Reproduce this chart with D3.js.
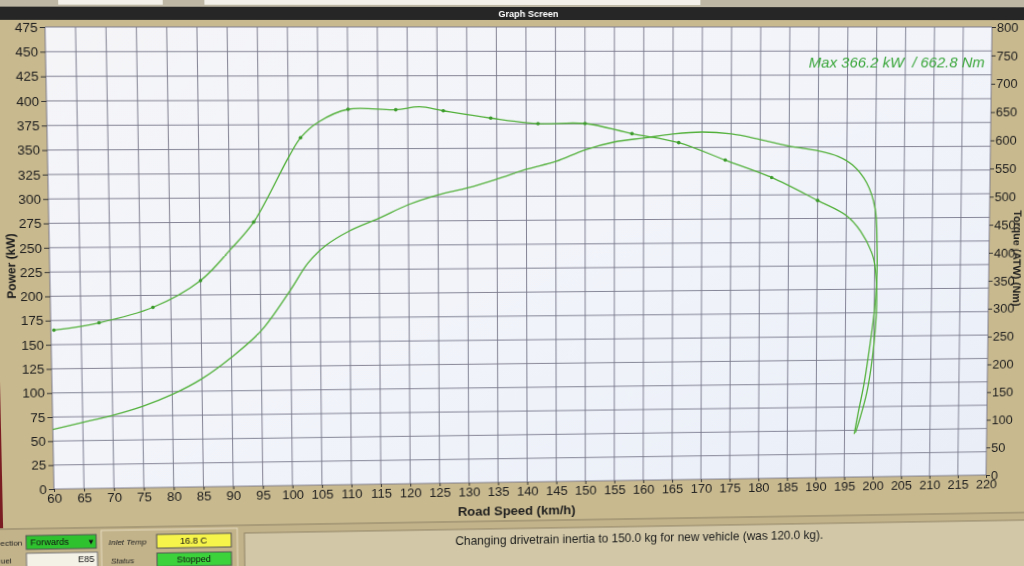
<!DOCTYPE html>
<html>
<head>
<meta charset="utf-8">
<script src="https://cdn.jsdelivr.net/npm/d3@7"></script>
<style>
  html, body { margin: 0; width: 1024px; height: 566px; overflow: hidden; background: #c6b78d; }
  svg { position: absolute; left: 0; top: 0; transform-origin: 0 0; font-family: "Liberation Sans", Arial, sans-serif; }
</style>
</head>
<body>
<svg id="chart" width="1070" height="610"></svg>
<script>
// road speed ticks / axis ranges
const speedTicks = d3.range(60, 221, 5);
const powerTicks = d3.range(0, 476, 25);
const torqueTicks = d3.range(0, 801, 50);

// power run (km/h, kW) incl. the run-down at the end
const powerSpeed = [60, 65, 70, 75, 80, 85, 90, 95, 100, 103, 106, 110, 115, 120, 125, 130, 135, 140, 145, 150, 155, 160, 165, 170, 175, 180, 185, 190, 193.5, 196, 198.5, 200, 200.4, 200.4, 200, 199.3, 198.3, 197.4, 196.7];
const powerKw = [62, 69, 76, 85, 97, 113, 135, 162, 204, 232, 250, 265, 278, 292, 302, 309, 318, 328, 336, 348, 356, 360, 364, 366, 364, 358, 351, 346, 340, 331, 312, 285, 245, 210, 175, 140, 98, 70, 46];

// torque run (km/h, Nm)
const torqueSpeed = [60.5, 68, 77, 85, 90, 94, 100, 102, 105, 110, 118, 122, 126, 134, 142, 150, 158, 166, 174, 182, 190, 195, 197.5, 199.7, 200.3, 200.4, 200.1, 199.6, 198.8, 197.8, 196.9];
const torqueNm = [278, 290, 316, 362, 415, 463, 576, 609, 636, 658, 657, 662, 655, 642, 632, 632, 614, 598, 567, 536, 495, 468, 440, 395, 354, 300, 250, 200, 150, 110, 80];
// speeds where the dyno software put a dot on the torque trace
const torqueMarks = [60.5, 68, 77, 85, 94, 102, 110, 118, 126, 134, 142, 150, 158, 166, 174, 182, 190];

const maxLabel = "Max 366.2 kW  / 662.8 Nm";

const svg = d3.select("#chart");
const plotL = 55, plotR = 986, plotT = 27, plotB = 489;

const x = d3.scaleLinear().domain([60, 220]).range([plotL, plotR]);
const yP = d3.scaleLinear().domain([0, 475]).range([plotB, plotT]);
const yT = d3.scaleLinear().domain([0, 800]).range([plotB, plotT]);

// the reference is a photo of a screen taken at a slight angle:
// map the flat plot corners onto where they sit in the photo
function homography(src, dst) {
  const A = [], b = [];
  for (let i = 0; i < 4; i++) {
    const [sx, sy] = src[i], [u, v] = dst[i];
    A.push([sx, sy, 1, 0, 0, 0, -u * sx, -u * sy]); b.push(u);
    A.push([0, 0, 0, sx, sy, 1, -v * sx, -v * sy]); b.push(v);
  }
  for (let c = 0; c < 8; c++) {
    let p = c;
    for (let r = c + 1; r < 8; r++) if (Math.abs(A[r][c]) > Math.abs(A[p][c])) p = r;
    [A[c], A[p]] = [A[p], A[c]]; [b[c], b[p]] = [b[p], b[c]];
    for (let r = 0; r < 8; r++) {
      if (r === c) continue;
      const f = A[r][c] / A[c][c];
      for (let k = c; k < 8; k++) A[r][k] -= f * A[c][k];
      b[r] -= f * b[c];
    }
  }
  return b.map((v, i) => v / A[i][i]);
}
const h = homography(
  [[plotL, plotT], [plotR, plotT], [plotL, plotB], [plotR, plotB]],
  [[45, 27], [992, 27], [54, 489], [986, 475]]
);
svg.style("transform", `matrix3d(${h[0]},${h[3]},0,${h[6]},${h[1]},${h[4]},0,${h[7]},0,0,1,0,${h[2]},${h[5]},0,1)`);

// window chrome
svg.append("rect").attr("x", -20).attr("y", -20).attr("width", 1110).attr("height", 650).attr("fill", "#c8b98f");
svg.append("rect").attr("x", -20).attr("y", -10).attr("width", 1110).attr("height", 18).attr("fill", "#bdb7a4");
svg.append("rect").attr("x", 68).attr("y", -4).attr("width", 100).attr("height", 9).attr("fill", "#f2f0e8");
svg.append("rect").attr("x", 208).attr("y", -4).attr("width", 485).attr("height", 9).attr("fill", "#f2f0e8");
svg.append("rect").attr("x", -20).attr("y", 7).attr("width", 1110).attr("height", 13).attr("fill", "#262626");
svg.append("text").attr("x", 523).attr("y", 17).attr("text-anchor", "middle")
  .attr("fill", "#fff").attr("font-size", 9).attr("font-weight", "bold").text("Graph Screen");
svg.append("rect").attr("x", -20).attr("y", 0).attr("width", 25).attr("height", 530).attr("fill", "#7a1c22");

// plot area
const grad = svg.append("defs").append("linearGradient").attr("id", "bg")
  .attr("x1", 0).attr("x2", 1).attr("y1", 0).attr("y2", 1);
grad.append("stop").attr("offset", 0).attr("stop-color", "#f5f5f8");
grad.append("stop").attr("offset", 0.5).attr("stop-color", "#f2f4fa");
grad.append("stop").attr("offset", 1).attr("stop-color", "#e9eef7");
svg.append("rect").attr("x", plotL).attr("y", plotT).attr("width", plotR - plotL).attr("height", plotB - plotT)
  .attr("fill", "url(#bg)");

const grid = svg.append("g").attr("stroke", "#77778a").attr("stroke-width", 0.9);
grid.selectAll(".v").data(speedTicks).join("line").attr("class", "v")
  .attr("x1", d => x(d)).attr("x2", d => x(d)).attr("y1", plotT).attr("y2", plotB);
grid.selectAll(".h").data(powerTicks).join("line").attr("class", "h")
  .attr("x1", plotL).attr("x2", plotR).attr("y1", d => yP(d)).attr("y2", d => yP(d));

// axes
const tickFont = g => g.call(s => s.select(".domain").remove())
  .selectAll("text").attr("font-size", 13).attr("fill", "#1d1d1d")
  .attr("font-family", "Liberation Sans, Arial, sans-serif");

svg.append("g").attr("transform", `translate(${plotL},0)`)
  .call(d3.axisLeft(yP).tickValues(powerTicks).tickSize(5).tickPadding(2))
  .call(tickFont).selectAll("line").attr("stroke", "#333");

svg.append("g").attr("transform", `translate(${plotR},0)`)
  .call(d3.axisRight(yT).tickValues(torqueTicks).tickSize(4).tickPadding(1))
  .call(tickFont).selectAll("line").attr("stroke", "#333");

svg.append("g").attr("transform", `translate(0,${plotB})`)
  .call(d3.axisBottom(x).tickValues(speedTicks).tickSize(3).tickPadding(2))
  .call(tickFont).selectAll("line").attr("stroke", "#333");

svg.append("text").attr("transform", "translate(22,264) rotate(-90)").attr("text-anchor", "middle")
  .attr("font-size", 12).attr("font-weight", "bold").attr("fill", "#1d1d1d").text("Power (kW)");
svg.append("text").attr("transform", "translate(1011,264) rotate(90)").attr("text-anchor", "middle")
  .attr("font-size", 11).attr("font-weight", "bold").attr("fill", "#1d1d1d").text("Torque (ATW) (Nm)");
svg.append("text").attr("x", 510).attr("y", 523).attr("text-anchor", "middle")
  .attr("font-size", 13).attr("font-weight", "bold").attr("fill", "#1d1d1d").text("Road Speed (km/h)");

// curves
const line = d3.line().curve(d3.curveCatmullRom.alpha(0.5));
const powerPts = powerSpeed.map((s, i) => [x(s), yP(powerKw[i])]);
const torquePts = torqueSpeed.map((s, i) => [x(s), yT(torqueNm[i])]);

svg.append("path").attr("d", line(powerPts)).attr("fill", "none")
  .attr("stroke", "#52b03a").attr("stroke-width", 1.3);
svg.append("path").attr("d", line(torquePts)).attr("fill", "none")
  .attr("stroke", "#52b03a").attr("stroke-width", 1.3);

svg.append("g").selectAll("circle")
  .data(torqueMarks.map(s => [s, torqueNm[torqueSpeed.indexOf(s)]]))
  .join("circle").attr("cx", d => x(d[0])).attr("cy", d => yT(d[1])).attr("r", 1.8).attr("fill", "#3c9a2c");

svg.append("text").attr("x", 979).attr("y", 68).attr("text-anchor", "end")
  .attr("font-size", 15).attr("font-style", "italic").attr("fill", "#3aa63a")
  .style("white-space", "pre").text(maxLabel);

// status strip
svg.append("rect").attr("x", -20).attr("y", 528).attr("width", 1110).attr("height", 100).attr("fill", "#c2b38a");
svg.append("line").attr("x1", -20).attr("x2", 1090).attr("y1", 529).attr("y2", 529).attr("stroke", "#8f8466");
svg.append("text").attr("x", 2).attr("y", 546).attr("font-size", 8).attr("fill", "#222").text("ection");
svg.append("text").attr("x", 2).attr("y", 564).attr("font-size", 8).attr("fill", "#222").text("uel");
svg.append("rect").attr("x", 27).attr("y", 536).attr("width", 68).attr("height", 14).attr("fill", "#2fc22f").attr("stroke", "#555");
svg.append("text").attr("x", 31).attr("y", 546.5).attr("font-size", 9).attr("fill", "#111").text("Forwards");
svg.append("text").attr("x", 86).attr("y", 546.5).attr("font-size", 8).attr("fill", "#111").text("▼");
svg.append("rect").attr("x", 27).attr("y", 554).attr("width", 69).attr("height", 20).attr("fill", "#f4f1e6").attr("stroke", "#777");
svg.append("text").attr("x", 93).attr("y", 564.5).attr("text-anchor", "end").attr("font-size", 9).attr("fill", "#111").text("E85");
svg.append("rect").attr("x", 100).attr("y", 532).attr("width", 133).attr("height", 50).attr("fill", "none").attr("stroke", "#e6dcc0");
svg.append("text").attr("x", 107).attr("y", 547).attr("font-size", 8).attr("font-style", "italic").attr("fill", "#222").text("Inlet Temp");
svg.append("text").attr("x", 109).attr("y", 566).attr("font-size", 8).attr("font-style", "italic").attr("fill", "#222").text("Status");
svg.append("rect").attr("x", 154).attr("y", 537).attr("width", 73).attr("height", 14).attr("fill", "#f6f34a").attr("stroke", "#555");
svg.append("text").attr("x", 190).attr("y", 547.5).attr("text-anchor", "middle").attr("font-size", 9).attr("fill", "#111").text("16.8 C");
svg.append("rect").attr("x", 154).attr("y", 556).attr("width", 73).attr("height", 14).attr("fill", "#3bd23b").attr("stroke", "#555");
svg.append("text").attr("x", 190).attr("y", 566.5).attr("text-anchor", "middle").attr("font-size", 9).attr("fill", "#111").text("Stopped");
svg.append("rect").attr("x", 240).attr("y", 537).attr("width", 830).attr("height", 60).attr("fill", "#d2c8a8").attr("stroke", "#8f8466");
svg.append("text").attr("x", 634).attr("y", 553).attr("text-anchor", "middle").attr("font-size", 12).attr("fill", "#1a1a1a")
  .text("Changing drivetrain inertia to 150.0 kg for new vehicle (was 120.0 kg).");
</script>
</body>
</html>
